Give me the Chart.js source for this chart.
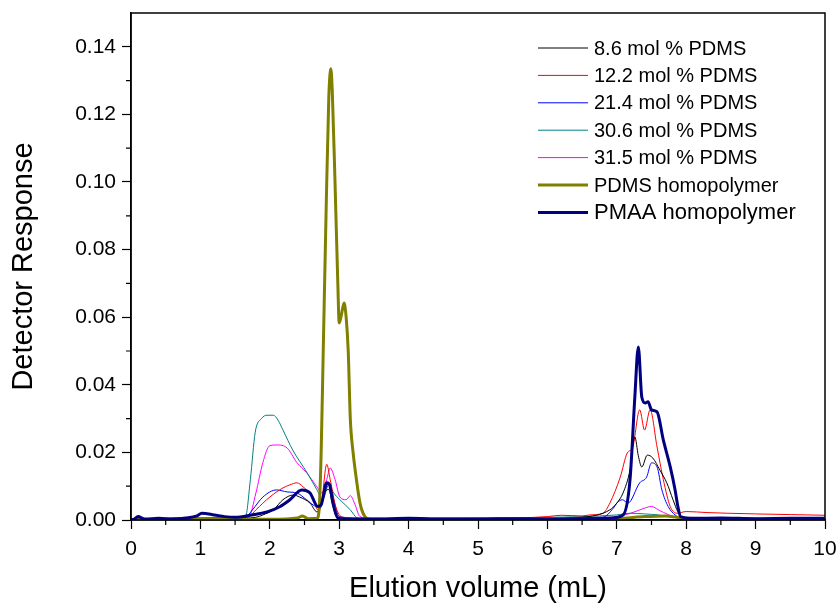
<!DOCTYPE html>
<html>
<head>
<meta charset="utf-8">
<script src="https://cdn.jsdelivr.net/npm/chart.js@4"></script>
<style>
  html, body { margin: 0; padding: 0; background: #fff; }
  #wrap { width: 836px; height: 603px; }
</style>
</head>
<body>
<div id="wrap"><canvas id="gpcChart" width="836" height="603"></canvas></div>
<script>
// elution volume (mL) / detector response
const labels = ['8.6 mol % PDMS', '12.2 mol % PDMS', '21.4 mol % PDMS', '30.6 mol % PDMS',
    '31.5 mol % PDMS', 'PDMS homopolymer', 'PMAA homopolymer'];
const colors = ['#000000', '#ff0000', '#0000ff', '#008080', '#ff00ff', '#808000', '#000080'];

const x86 = [0, 0.5, 1, 1.5, 1.8, 1.9, 2.05, 2.19, 2.34, 2.43, 2.58, 2.68, 2.74, 2.8, 2.85, 2.9, 2.96, 3.05, 3.5, 4, 5, 6, 6.5, 6.9, 7.0, 7.09, 7.19, 7.26, 7.31, 7.36, 7.44, 7.52, 7.62, 7.72, 7.81, 7.88, 7.95, 8.1, 9, 10];
const y86 = [0.0002, 0.0003, 0.0005, 0.0005, 0.0008, 0.0015, 0.003, 0.006, 0.0074, 0.0068, 0.005, 0.0024, 0.004, 0.0085, 0.009, 0.005, 0.001, 0.0003, 0.0002, 0.0003, 0.0003, 0.0004, 0.0008, 0.003, 0.005, 0.008, 0.0148, 0.0246, 0.019, 0.0157, 0.0192, 0.0183, 0.0148, 0.011, 0.006, 0.0024, 0.0008, 0.0004, 0.0003, 0.0003];

const x122 = [0, 0.5, 0.8, 1, 1.5, 1.7, 1.8, 2.0, 2.19, 2.29, 2.39, 2.48, 2.62, 2.69, 2.75, 2.82, 2.87, 2.95, 3.05, 3.5, 4, 5, 5.5, 6, 6.2, 6.5, 6.61, 6.8, 6.9, 7.05, 7.15, 7.23, 7.33, 7.4, 7.48, 7.58, 7.67, 7.77, 7.87, 8.0, 8.3, 8.6, 9, 9.5, 10];
const y122 = [0.0003, 0.0005, 0.0008, 0.0006, 0.0008, 0.001, 0.003, 0.0068, 0.0095, 0.0104, 0.011, 0.0098, 0.0068, 0.003, 0.006, 0.0165, 0.012, 0.004, 0.0008, 0.0005, 0.0005, 0.0006, 0.0006, 0.001, 0.0014, 0.0012, 0.0015, 0.002, 0.005, 0.0127, 0.0198, 0.0216, 0.0326, 0.0266, 0.0326, 0.0216, 0.012, 0.004, 0.002, 0.0025, 0.0022, 0.002, 0.0018, 0.0016, 0.0014];

const x214 = [0, 1, 1.5, 1.65, 1.75, 1.9, 2.1, 2.25, 2.39, 2.53, 2.68, 2.76, 2.85, 2.92, 3.0, 3.5, 5, 6, 6.8, 6.95, 7.0, 7.08, 7.16, 7.33, 7.43, 7.5, 7.58, 7.65, 7.74, 7.84, 7.95, 9, 10];
const y214 = [0.0003, 0.0005, 0.0005, 0.0008, 0.003, 0.0068, 0.0089, 0.0083, 0.008, 0.006, 0.004, 0.006, 0.011, 0.006, 0.001, 0.0003, 0.0003, 0.0004, 0.0008, 0.0035, 0.005, 0.006, 0.005, 0.011, 0.0127, 0.0169, 0.0157, 0.0089, 0.004, 0.0015, 0.0005, 0.0003, 0.0003];

const x306 = [0, 1, 1.5, 1.65, 1.72, 1.79, 1.88, 1.96, 2.05, 2.12, 2.19, 2.33, 2.54, 2.68, 2.76, 2.85, 2.92, 3.01, 3.16, 3.26, 3.4, 4, 5, 5.5, 6, 6.5, 7, 7.2, 7.4, 7.6, 7.8, 8, 9, 10];
const y306 = [0.0003, 0.0004, 0.0005, 0.001, 0.012, 0.026, 0.030, 0.031, 0.031, 0.0295, 0.0266, 0.0207, 0.0139, 0.0089, 0.006, 0.0104, 0.008, 0.006, 0.003, 0.0006, 0.0003, 0.0005, 0.0004, 0.0006, 0.0008, 0.001, 0.0015, 0.002, 0.0018, 0.0015, 0.0008, 0.0005, 0.0004, 0.0004];

const x315 = [0, 1, 1.5, 1.7, 1.8, 1.9, 2.0, 2.1, 2.25, 2.39, 2.53, 2.68, 2.75, 2.82, 2.87, 2.94, 3.01, 3.1, 3.16, 3.22, 3.3, 3.5, 5, 6, 6.8, 7.0, 7.2, 7.4, 7.5, 7.6, 7.75, 7.9, 8.1, 9, 10];
const y315 = [0.0002, 0.0004, 0.0004, 0.001, 0.008, 0.017, 0.022, 0.0222, 0.0213, 0.017, 0.014, 0.0098, 0.008, 0.012, 0.0154, 0.012, 0.0068, 0.006, 0.0072, 0.005, 0.001, 0.0002, 0.0002, 0.0003, 0.0005, 0.001, 0.002, 0.0035, 0.004, 0.003, 0.0015, 0.0005, 0.0003, 0.0002, 0.0002];

const xPDMS = [0, 0.5, 1, 1.5, 2, 2.4, 2.47, 2.55, 2.68, 2.71, 2.74, 2.77, 2.81, 2.85, 2.88, 2.9, 2.94, 2.98, 3.0, 3.03, 3.07, 3.1, 3.13, 3.16, 3.2, 3.23, 3.3, 3.37, 3.45, 4, 5, 6, 7, 7.4, 7.7, 8, 9, 10];
const yPDMS = [0, 0.0002, 0.0003, 0.0002, 0.0002, 0.0006, 0.0012, 0.0004, 0.0005, 0.003, 0.02, 0.05, 0.09, 0.125, 0.1335, 0.127, 0.0997, 0.07, 0.0583, 0.0605, 0.0642, 0.06, 0.05, 0.03, 0.02, 0.0148, 0.005, 0.001, 0.0002, 0.0002, 0.0002, 0.0003, 0.0004, 0.001, 0.0012, 0.0005, 0.0003, 0.0003];

const xPMAA = [0, 0.05, 0.1, 0.2, 0.4, 0.6, 0.8, 0.95, 1.02, 1.2, 1.35, 1.5, 1.74, 1.96, 2.15, 2.29, 2.46, 2.58, 2.69, 2.74, 2.82, 2.86, 2.91, 2.98, 3.1, 3.5, 4, 4.5, 5, 5.5, 6, 6.5, 6.9, 7.09, 7.19, 7.26, 7.31, 7.36, 7.41, 7.45, 7.5, 7.58, 7.67, 7.77, 7.84, 7.88, 7.92, 8.1, 8.5, 9, 9.5, 10];
const yPMAA = [0, 0.0003, 0.001, 0.0003, 0.0005, 0.0003, 0.0006, 0.0012, 0.002, 0.0015, 0.001, 0.0008, 0.0015, 0.0024, 0.004, 0.006, 0.0089, 0.008, 0.004, 0.0045, 0.011, 0.0105, 0.005, 0.0006, 0.0003, 0.0003, 0.0005, 0.0003, 0.0003, 0.0004, 0.0003, 0.0004, 0.0006, 0.0015, 0.0118, 0.0364, 0.0512, 0.0364, 0.0346, 0.035, 0.0326, 0.032, 0.0237, 0.0157, 0.0089, 0.004, 0.001, 0.0005, 0.0006, 0.0004, 0.0005, 0.0005];

const xTicks = [0, 1, 2, 3, 4, 5, 6, 7, 8, 9, 10];
const yTicks = [0, 0.02, 0.04, 0.06, 0.08, 0.10, 0.12, 0.14];

const FONT = "'Liberation Sans', Arial, sans-serif";

function toPoints(xs, ys) {
    return xs.map((x, i) => ({ x: x, y: ys[i] }));
}

const seriesX = [x86, x122, x214, x306, x315, xPDMS, xPMAA];
const seriesY = [y86, y122, y214, y306, y315, yPDMS, yPMAA];

const datasets = labels.map((label, i) => {
    const thick = i >= 5;
    return {
        label: label,
        data: toPoints(seriesX[i], seriesY[i]),
        borderColor: colors[i],
        backgroundColor: colors[i],
        borderWidth: thick ? 3 : 1,
        pointRadius: 0,
        cubicInterpolationMode: 'monotone',
        order: i === 6 ? 0 : (i === 5 ? 1 : 2 + i)
    };
});

// frame on top/right + minor ticks + legend inside the plot
const framePlugin = {
    id: 'frame',
    afterDraw(chart) {
        const ctx = chart.ctx;
        const a = chart.chartArea;
        const xs = chart.scales.x, ys = chart.scales.y;
        ctx.save();
        ctx.strokeStyle = '#000';
        ctx.lineWidth = 1.5;
        ctx.strokeRect(a.left, a.top, a.right - a.left, a.bottom - a.top);

        ctx.lineWidth = 1.2;
        ctx.beginPath();
        for (let v = 0.5; v < 10; v += 1) {
            const px = xs.getPixelForValue(v);
            ctx.moveTo(px, a.bottom);
            ctx.lineTo(px, a.bottom + 5);
        }
        for (let v = 0.01; v < 0.15; v += 0.02) {
            const py = ys.getPixelForValue(v);
            ctx.moveTo(a.left, py);
            ctx.lineTo(a.left - 5, py);
        }
        ctx.stroke();

        // legend
        const top = 48, step = 27.4;
        chart.data.datasets.forEach((ds, i) => {
            const y = top + i * step;
            ctx.strokeStyle = ds.borderColor;
            ctx.lineWidth = ds.borderWidth;
            ctx.beginPath();
            ctx.moveTo(538, y);
            ctx.lineTo(588, y);
            ctx.stroke();
            ctx.fillStyle = '#000';
            ctx.textBaseline = 'middle';
            ctx.textAlign = 'left';
            ctx.font = (i === 6 ? '22px ' : '20px ') + FONT;
            ctx.fillText(ds.label, 594, y + 1);
        });
        ctx.restore();
    }
};

new Chart(document.getElementById('gpcChart'), {
    type: 'line',
    data: { datasets: datasets },
    options: {
        responsive: false,
        animation: false,
        layout: { padding: { top: 13, right: 11, left: 0, bottom: 0 } },
        plugins: {
            legend: { display: false },
            tooltip: { enabled: false }
        },
        scales: {
            x: {
                type: 'linear',
                min: 0,
                max: 10,
                afterBuildTicks: scale => { scale.ticks = xTicks.map(v => ({ value: v })); },
                afterFit: scale => {
                    scale.height = 83;
                    scale.paddingLeft = 0;
                    scale.paddingRight = 0;
                },
                grid: { drawOnChartArea: false, tickLength: 9, tickColor: '#000', tickWidth: 1.2 },
                border: { display: true, color: '#000', width: 1.5 },
                ticks: {
                    color: '#000',
                    padding: 8,
                    maxRotation: 0,
                    font: { family: FONT, size: 21 },
                    callback: v => String(v)
                },
                title: {
                    display: true,
                    text: 'Elution volume (mL)',
                    color: '#000',
                    font: { family: FONT, size: 29, lineHeight: 1 },
                    padding: { top: 0, bottom: 0 }
                }
            },
            y: {
                type: 'linear',
                min: 0,
                max: 0.15,
                afterBuildTicks: scale => { scale.ticks = yTicks.map(v => ({ value: v })); },
                afterFit: scale => {
                    scale.width = 131;
                    scale.paddingTop = 0;
                    scale.paddingBottom = 0;
                },
                grid: { drawOnChartArea: false, tickLength: 9, tickColor: '#000', tickWidth: 1.2 },
                border: { display: true, color: '#000', width: 1.5 },
                ticks: {
                    color: '#000',
                    padding: 6,
                    font: { family: FONT, size: 21 },
                    callback: v => v.toFixed(2)
                },
                title: {
                    display: true,
                    text: 'Detector Response',
                    color: '#000',
                    font: { family: FONT, size: 29, lineHeight: 1 },
                    padding: { top: 9, bottom: 0 }
                }
            }
        }
    },
    plugins: [framePlugin]
});
</script>
</body>
</html>
